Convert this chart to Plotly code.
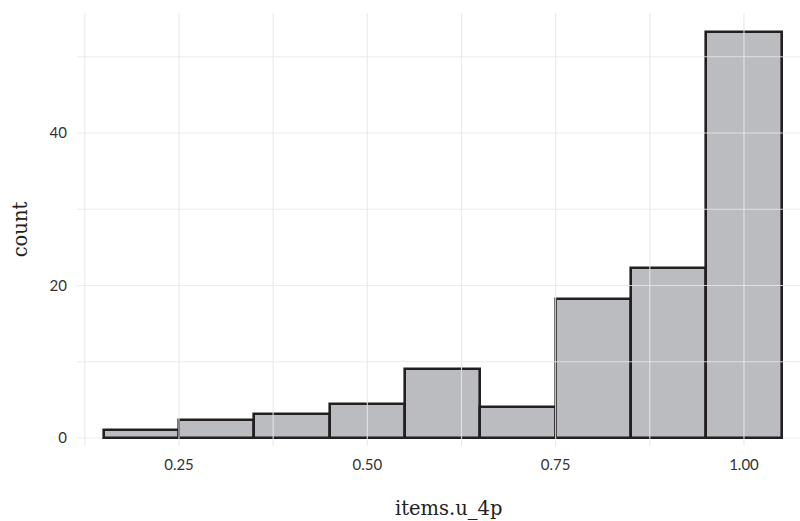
import plotly.graph_objects as go

# Data (binwidth 0.1)
bin_centers = [0.2, 0.3, 0.4, 0.5, 0.6, 0.7, 0.8, 0.9, 1.0]
counts = [1.05, 2.35, 3.15, 4.45, 9.1, 4.1, 18.2, 22.3, 53.2]
x_tick_vals = [0.25, 0.50, 0.75, 1.00]
x_tick_text = ["0.25", "0.50", "0.75", "1.00"]
x_minor_vals = [0.125, 0.375, 0.625, 0.875]
y_tick_vals = [0, 20, 40]
y_minor_vals = [10, 30, 50]

x_range = [0.1146, 1.0744]
y_range = [-1.05, 55.74]

fig = go.Figure()
fig.add_trace(go.Bar(
    x=bin_centers, y=counts, width=0.1,
    marker=dict(color="#bbbcc0", line=dict(color="#231f20", width=2.6)),
    hoverinfo="x+y",
))

grid_col = "rgba(231,231,231,0.84)"
shapes = []
for v in x_tick_vals + x_minor_vals:
    shapes.append(dict(type="line", xref="x", yref="paper", x0=v, x1=v, y0=0, y1=1,
                       line=dict(color=grid_col, width=1.2), layer="above"))
for v in y_tick_vals + y_minor_vals:
    shapes.append(dict(type="line", xref="paper", yref="y", x0=0, x1=1, y0=v, y1=v,
                       line=dict(color=grid_col, width=1.2),
                       layer="below" if v == 0 else "above"))

fig.update_layout(
    width=800, height=521,
    margin=dict(l=77, r=0, t=13, b=75),
    paper_bgcolor="white", plot_bgcolor="white",
    showlegend=False,
    bargap=0,
    shapes=shapes,
    annotations=[dict(
        text="items.u_4p", xref="paper", yref="paper", x=0.515, y=0,
        yshift=-62, xanchor="center", yanchor="middle", showarrow=False,
        font=dict(family="DejaVu Serif", size=19.5, color="#222222"),
    )],
    xaxis=dict(
        range=x_range, tickvals=x_tick_vals, ticktext=x_tick_text,
        showgrid=False, zeroline=False, showline=False, automargin=False,
        ticks="outside", ticklen=5, tickcolor="rgba(0,0,0,0)",
        tickfont=dict(family="Lato", size=15, color="#333333"),
    ),
    yaxis=dict(
        range=y_range, tickvals=y_tick_vals,
        showgrid=False, zeroline=False, showline=False, automargin=False,
        ticks="outside", ticklen=6, tickcolor="rgba(0,0,0,0)",
        tickfont=dict(family="Lato", size=15, color="#333333"),
        title=dict(text="count", standoff=16,
                   font=dict(family="DejaVu Serif", size=19.5, color="#222222")),
    ),
)

fig.write_html("out.html", config={"displayModeBar": False},
               post_script="document.body.style.margin='0';")
